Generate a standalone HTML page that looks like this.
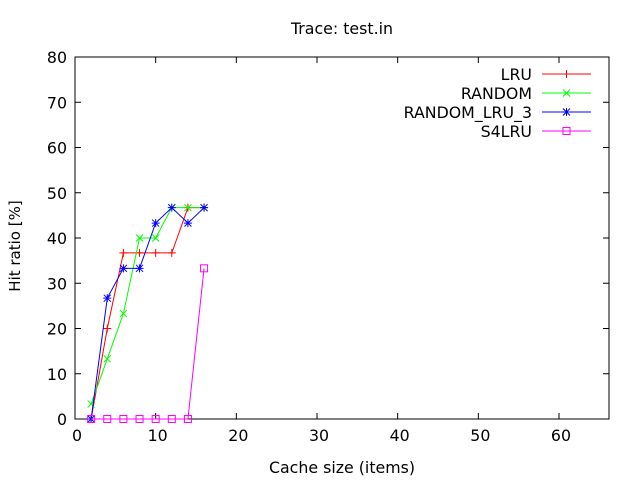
<!DOCTYPE html>
<html><head><meta charset="utf-8"><style>body{margin:0;background:#fff}svg{font-family:"DejaVu Sans","Liberation Sans",sans-serif}</style></head>
<body>
<svg id="c" width="640" height="480">
<text x="342" y="34" font-size="15.8" text-anchor="middle">Trace: test.in</text>
<text x="342" y="473" font-size="15.8" text-anchor="middle">Cache size (items)</text>
<text transform="translate(20,246) rotate(-90)" font-size="15" text-anchor="middle">Hit ratio [%]</text>
<g id="axes"></g><g id="series"></g><g id="legend"></g>
</svg>
<script>
const xs=[2,4,6,8,10,12,14,16];
const lru=[0,20,36.7,36.7,36.7,36.7,46.7,46.7];
const rnd=[3.3,13.3,23.3,40,40,46.7,46.7,46.7];
const rlru3=[0,26.7,33.3,33.3,43.3,46.7,43.3,46.7];
const s4lru=[0,0,0,0,0,0,0,33.3];
const xTicks=[0,10,20,30,40,50,60];
const yTicks=[0,10,20,30,40,50,60,70,80];
const seriesNames=["LRU","RANDOM","RANDOM_LRU_3","S4LRU"];
const L=75,R=609,T=57,B=419,XMAX=66.2,YMAX=80;
const X=v=>L+v/XMAX*(R-L), Y=v=>B-v/YMAX*(B-T);
const NS="http://www.w3.org/2000/svg";
function mk(t,a,p){const e=document.createElementNS(NS,t);for(const k in a)e.setAttribute(k,a[k]);p.appendChild(e);return e;}
const ax=document.getElementById('axes');
const frame=mk('rect',{x:L,y:T,width:R-L,height:B-T,fill:'none',stroke:'#000'},ax);


xTicks.forEach(v=>{const x=X(v);
mk('line',{x1:x,x2:x,y1:B,y2:B-6,stroke:'#000'},ax);mk('line',{x1:x,x2:x,y1:T,y2:T+6,stroke:'#000'},ax);
const t=mk('text',{x:x+2,y:B+22,'font-size':15.8,'text-anchor':'middle'},ax);t.textContent=v;

});
yTicks.forEach(v=>{const y=Y(v);
mk('line',{x1:L,x2:L+6,y1:y,y2:y,stroke:'#000'},ax);mk('line',{x1:R,x2:R-6,y1:y,y2:y,stroke:'#000'},ax);
const t=mk('text',{x:L-8,y:y+6,'font-size':15.8,'text-anchor':'end'},ax);t.textContent=v;

});
function marker(type,x,y,c,g){
 if(type==0){mk('path',{d:`M${x-4} ${y}H${x+4}M${x} ${y-4}V${y+4}`,stroke:c,fill:'none'},g);}
 else if(type==1){mk('path',{d:`M${x-3.5} ${y-3.5}L${x+3.5} ${y+3.5}M${x-3.5} ${y+3.5}L${x+3.5} ${y-3.5}`,stroke:c,fill:'none'},g);}
 else if(type==2){mk('path',{d:`M${x-4} ${y}H${x+4}M${x} ${y-4}V${y+4}M${x-3.5} ${y-3.5}L${x+3.5} ${y+3.5}M${x-3.5} ${y+3.5}L${x+3.5} ${y-3.5}`,stroke:c,fill:'none'},g);}
 else {mk('rect',{x:x-3.5,y:y-3.5,width:7,height:7,stroke:c,fill:'none'},g);}
}
const data=[lru,rnd,rlru3,s4lru],cols=['#ff0000','#00ff00','#0000ff','#ff00ff'];
const sg=document.getElementById('series'),lg=document.getElementById('legend');
data.forEach((d,i)=>{
 const g=mk('g',{},sg);
 
 
 mk('polyline',{points:xs.map((x,j)=>X(x)+','+Y(d[j])).join(' '),fill:'none',stroke:cols[i]},g);
 xs.forEach((x,j)=>marker(i,X(x),Y(d[j]),cols[i],g));
 const ly=74+i*19;
 const le=mk('g',{},lg);
 
 
 const t=mk('text',{x:532,y:ly+6,'font-size':15.8,'text-anchor':'end'},le);t.textContent=seriesNames[i];
 mk('line',{x1:542,x2:591,y1:ly,y2:ly,stroke:cols[i]},le);
 marker(i,566.5,ly,cols[i],le);
});
</script>
</body></html>
